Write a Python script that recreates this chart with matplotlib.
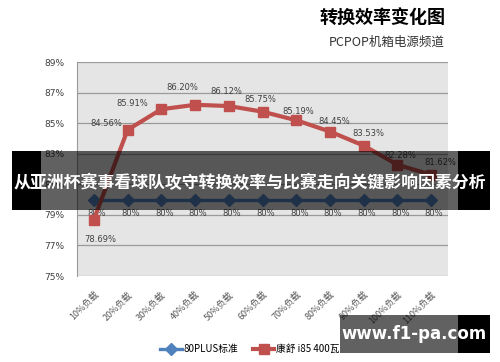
import matplotlib
matplotlib.use("Agg")
import matplotlib.pyplot as plt
from matplotlib.patches import Rectangle

plt.rcParams['font.family'] = ['Noto Sans CJK SC', 'DejaVu Sans']

# 数据
categories = ['10%负载', '20%负载', '30%负载', '40%负载', '50%负载', '60%负载',
              '70%负载', '80%负载', '90%负载', '100%负载', '110%负载']
standard_80plus = [80, 80, 80, 80, 80, 80, 80, 80, 80, 80, 80]
kangshu_i85 = [78.69, 84.56, 85.91, 86.20, 86.12, 85.75, 85.19, 84.45, 83.53, 82.28, 81.62]
y_ticks = [75, 77, 79, 81, 83, 85, 87, 89]

# label offsets (pixels) for red data labels
red_offsets = [(6, -20), (-21, 6), (-29, 6), (-13, 17), (-2, 15), (-2, 12),
               (2, 9), (4, 10), (5, 12), (3, 9), (9, 12)]

W, H = 500, 362
fig = plt.figure(figsize=(W / 100, H / 100), dpi=100)
ax = fig.add_axes([77 / W, 1 - 276 / H, (448 - 77) / W, (276 - 62) / H])
ax.set_facecolor('#e5e5e5')

x = list(range(len(categories)))
ax.plot(x, standard_80plus, color='#4f81bd', lw=2.4, marker='D', ms=6, label='80PLUS标准', zorder=3)
ax.plot(x, kangshu_i85, color='#c0504d', lw=3, marker='s', ms=7, label='康舒 i85 400瓦', zorder=4)

for i, v in enumerate(standard_80plus):
    ax.annotate(f'{v}%', (i, v), xytext=(3, -14), textcoords='offset pixels',
                ha='center', va='center', fontsize=6, color='#404040', family='DejaVu Sans')
for i, v in enumerate(kangshu_i85):
    dx, dy = red_offsets[i]
    ax.annotate(f'{v:.2f}%', (i, v), xytext=(dx, dy), textcoords='offset pixels',
                ha='center', va='center', fontsize=6, color='#404040', family='DejaVu Sans')

ax.set_xlim(-0.5, len(categories) - 0.5)
ax.set_ylim(75, 89)
ax.set_yticks(y_ticks)
ax.set_yticklabels([f'{t}%' for t in y_ticks], fontsize=6.5, color='#404040', family='DejaVu Sans')
ax.set_xticks(x)
ax.set_xticklabels(categories, rotation=45, ha='right', rotation_mode='anchor',
                   fontsize=6.5, color='#595959')
ax.tick_params(axis='both', length=0)
ax.tick_params(axis='x', pad=10)
ax.tick_params(axis='y', pad=9)
ax.grid(axis='y', color='#9a9a9a', lw=0.9)
ax.set_axisbelow(True)
for s in ['top', 'right', 'bottom']:
    ax.spines[s].set_visible(False)
ax.spines['left'].set_color('#9a9a9a')

fig.text(445 / W, 1 - 18 / H, '转换效率变化图', ha='right', va='center',
         fontsize=13, fontweight='heavy', color='black')
fig.text(445 / W, 1 - 42 / H, 'PCPOP机箱电源频道', ha='right', va='center',
         fontsize=9, color='#333333')

fig.legend(loc='center', bbox_to_anchor=(0.5, 1 - 349 / H), ncol=2, frameon=False,
           fontsize=7, handlelength=2.2, columnspacing=1.5, handletextpad=0.2)


def rect(x0, y0, x1, y1, color, alpha=1.0):
    fig.add_artist(Rectangle((x0 / W, 1 - y1 / H), (x1 - x0) / W, (y1 - y0) / H,
                             transform=fig.transFigure, facecolor=color, alpha=alpha,
                             edgecolor='none', zorder=10))


# banner overlay
rect(12, 151, 41, 210, 'black')
rect(458, 151, 490, 210, 'black')
rect(41, 151, 458, 210, 'black', alpha=0.62)
fig.text(250 / W, 1 - 183 / H, '从亚洲杯赛事看球队攻守转换效率与比赛走向关键影响因素分析',
         ha='center', va='center', fontsize=12.2, fontweight='bold', color='white', zorder=11)

# watermark
rect(340, 315, 458, 353, 'black', alpha=0.62)
rect(458, 315, 490, 353, 'black')
fig.text(414 / W, 1 - 334 / H, 'www.f1-pa.com', ha='center', va='center',
         fontsize=12, fontweight='bold', color='white', family='DejaVu Sans', zorder=11)

fig.savefig('out.png', dpi=100)
